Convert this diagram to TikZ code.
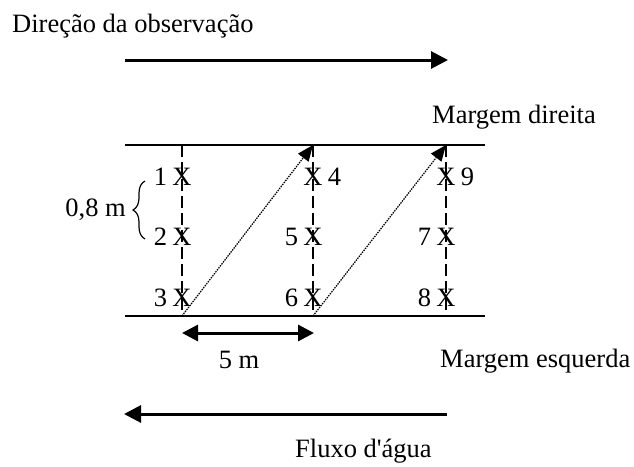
\documentclass[tikz,border=0pt]{standalone}
\usepackage{fontspec}
\setmainfont{Liberation Serif}
\newfontfamily\plainserif{Liberation Serif}
\usetikzlibrary{arrows.meta,decorations.pathreplacing}
\begin{document}
\begin{tikzpicture}[x=1pt,y=-1pt,
  lbl/.style={inner sep=0pt,font=\fontsize{26.5}{30}\selectfont},
  bigarrow/.style={line width=3pt,-{Triangle[length=17pt,width=17pt]}},
  bank/.style={line width=1.5pt},
  sectionline/.style={line width=2.6pt,dash pattern=on 12pt off 5pt},
  diagpath/.style={line width=1.2pt,dash pattern=on 1.5pt off 1pt,-{Triangle[length=16pt,width=13pt]}},
  xmark/.style={lbl},
  numlbl/.style={lbl}]
\useasboundingbox (0,0) rectangle (634,466);
% titles
\node[lbl,anchor=base west] (title) at (12,32) {Direção da observação};
\coordinate (oa) at (125,60);
\coordinate (ob) at (448,60);
\draw[bigarrow] (oa) -- (ob);
\node[lbl,anchor=base west] (md) at (432,123) {Margem direita};
\node[lbl,anchor=base west] (me) at (440,367) {Margem esquerda};
\node[lbl,anchor=base west] (fl) at (295,457) {\plainserif Fluxo d'água};
\coordinate (fa) at (447,414);
\coordinate (fb) at (124,414);
\draw[bigarrow] (fa) -- (fb);
% banks
\coordinate (tl) at (125,145); \coordinate (tr) at (485,145);
\coordinate (bl) at (125,316); \coordinate (br) at (485,316);
\draw[bank] (tl) -- (tr);
\draw[bank] (bl) -- (br);
% columns
\foreach \i/\x in {1/182,2/313,3/446}{
  \coordinate (t\i) at (\x,145);
  \coordinate (b\i) at (\x,316);
}
\draw[sectionline] (t1) -- (b1);
\draw[sectionline] (t2) -- (b2);
\draw[sectionline] (t3) -- (b3);
% X marks
\node[xmark] (x1) at (182,177) {X};
\node[xmark] (x2) at (182,237) {X};
\node[xmark] (x3) at (182,298) {X};
\node[xmark] (x4) at (313,177) {X};
\node[xmark] (x5) at (313,237) {X};
\node[xmark] (x6) at (313,298) {X};
\node[xmark] (x9) at (446,177) {X};
\node[xmark] (x7) at (446,237) {X};
\node[xmark] (x8) at (446,298) {X};
% numbers
\node[numlbl,anchor=east] (n1) at ([xshift=-5pt]x1.west) {1};
\node[numlbl,anchor=east] (n2) at ([xshift=-5pt]x2.west) {2};
\node[numlbl,anchor=east] (n3) at ([xshift=-5pt]x3.west) {3};
\node[numlbl,anchor=west] (n4) at ([xshift=5pt]x4.east) {4};
\node[numlbl,anchor=east] (n5) at ([xshift=-5pt]x5.west) {5};
\node[numlbl,anchor=east] (n6) at ([xshift=-5pt]x6.west) {6};
\node[numlbl,anchor=west] (n9) at ([xshift=5pt]x9.east) {9};
\node[numlbl,anchor=east] (n7) at ([xshift=-5pt]x7.west) {7};
\node[numlbl,anchor=east] (n8) at ([xshift=-5pt]x8.west) {8};
% diagonal paths
\draw[diagpath] (b1) -- (t2);
\draw[diagpath] (b2) -- (t3);
% brace
\coordinate (br1) at (145,239);
\coordinate (br2) at (145,181);
\draw[line width=1.2pt,decorate,decoration={brace,amplitude=12pt}] (br1) -- (br2);
\node[lbl,anchor=east] (d08) at (126,210) {0,8 m};
% 5 m
\coordinate (da) at (182,333);
\coordinate (db) at (314,333);
\draw[line width=3pt,{Triangle[length=16pt,width=16pt]}-{Triangle[length=16pt,width=16pt]}] (da) -- (db);
\node[lbl,anchor=base] (d5) at (239,368) {5 m};
\end{tikzpicture}
\end{document}
